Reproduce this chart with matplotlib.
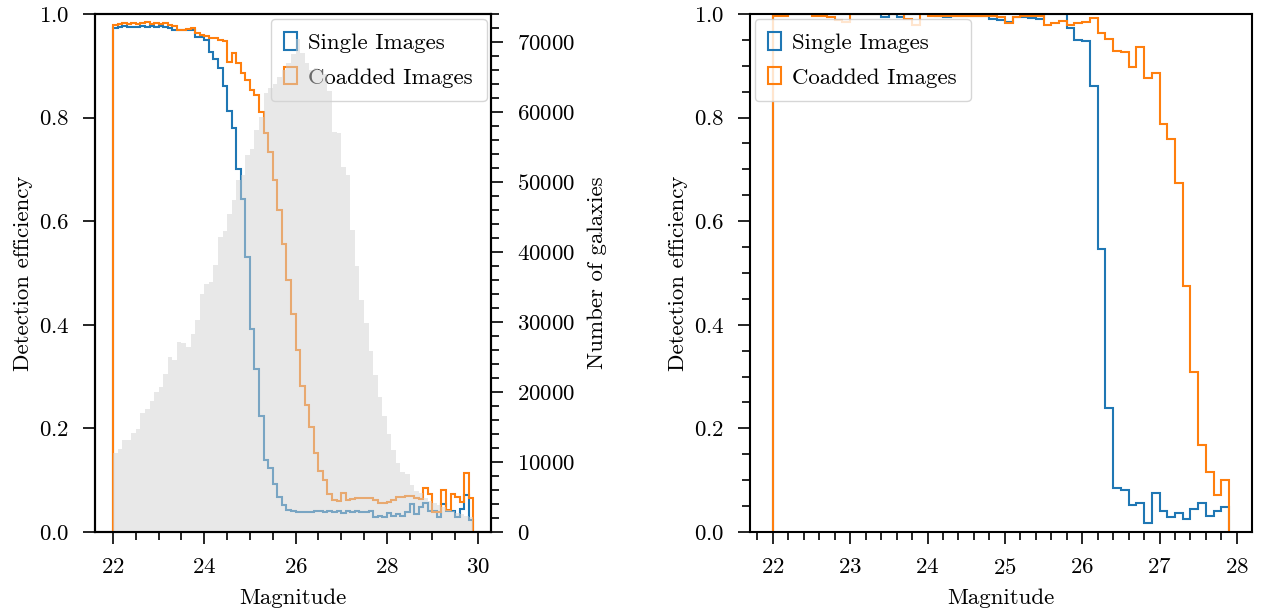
import numpy as np
import matplotlib
matplotlib.use('Agg')
import matplotlib.pyplot as plt
from matplotlib.ticker import MultipleLocator

plt.rcParams['font.family'] = 'serif'
plt.rcParams['font.serif'] = ['cmr10']
plt.rcParams['mathtext.fontset'] = 'cm'
plt.rcParams['axes.formatter.use_mathtext'] = True
plt.rcParams['font.size'] = 16.5
plt.rcParams['axes.linewidth'] = 1.5

# Bin edges (magnitude)
edges_left = np.linspace(22.0, 29.9, 80)
edges_right = np.linspace(22.0, 27.9, 60)

# Left panel: detection efficiency, single vs coadded
single_left = [
    0.973, 0.975, 0.977, 0.974, 0.975, 0.974, 0.976, 0.975, 0.977, 0.975,
    0.976, 0.974, 0.972, 0.970, 0.970, 0.969, 0.970, 0.970, 0.955, 0.955,
    0.949, 0.927, 0.914, 0.895, 0.860, 0.813, 0.780, 0.701, 0.643, 0.531,
    0.391, 0.315, 0.224, 0.139, 0.124, 0.093, 0.068, 0.052, 0.042, 0.040,
    0.039, 0.039, 0.038, 0.039, 0.040, 0.041, 0.038, 0.040, 0.039, 0.041,
    0.037, 0.040, 0.039, 0.041, 0.038, 0.039, 0.041, 0.029, 0.030, 0.028,
    0.036, 0.030, 0.035, 0.030, 0.039, 0.054, 0.035, 0.048, 0.055, 0.040,
    0.040, 0.028, 0.054, 0.040, 0.040, 0.028, 0.045, 0.072, 0.023,
]
coadd_left = [
    0.978, 0.980, 0.982, 0.980, 0.982, 0.980, 0.983, 0.985, 0.981, 0.983,
    0.981, 0.983, 0.978, 0.977, 0.970, 0.969, 0.971, 0.972, 0.964, 0.960,
    0.957, 0.953, 0.953, 0.950, 0.947, 0.908, 0.924, 0.905, 0.886, 0.872,
    0.853, 0.843, 0.811, 0.770, 0.734, 0.680, 0.622, 0.556, 0.487, 0.420,
    0.351, 0.281, 0.245, 0.203, 0.152, 0.117, 0.100, 0.074, 0.062, 0.060,
    0.075, 0.062, 0.064, 0.065, 0.066, 0.065, 0.066, 0.062, 0.055, 0.055,
    0.057, 0.062, 0.068, 0.068, 0.069, 0.070, 0.065, 0.064, 0.085, 0.074,
    0.038, 0.038, 0.082, 0.043, 0.074, 0.067, 0.058, 0.114, 0.065,
]
# Number of galaxies per bin (right axis of left panel)
galaxy_counts = [
    11240, 11810, 13140, 13140, 14190, 14710, 17050, 17620, 18760, 19960,
    20680, 22580, 24960, 24580, 27110, 27000, 26390, 28290, 30290, 34010,
    35400, 35700, 38150, 42100, 43000, 45500, 47500, 50300, 51000, 53800,
    54800, 57500, 59300, 62800, 63500, 64000, 65000, 66000, 67000, 68300,
    70500, 68500, 67000, 66000, 66300, 66000, 65500, 63000, 57200, 57000,
    52200, 51000, 43200, 38000, 33100, 29800, 25800, 22400, 19300, 16600,
    14000, 11700, 9900, 8500, 8300, 6700, 5800, 5500, 4800, 4400,
    4100, 3800, 3500, 3200, 3000, 2700, 2500, 2300, 2100,
]

# Right panel
single_right = [
    1.0, 1.0, 1.0, 1.0, 1.0, 1.0, 1.0, 1.0, 1.0, 1.0,
    1.0, 1.0, 1.0, 1.0, 0.995, 1.0, 0.995, 1.0, 1.0, 1.0,
    1.0, 0.996, 0.995, 0.996, 0.996, 0.997, 0.996, 0.997, 0.990, 0.988,
    0.985, 0.995, 0.995, 0.993, 0.990, 1.0, 1.0, 1.0, 0.972, 0.950,
    0.947, 0.861, 0.546, 0.239, 0.084, 0.082, 0.052, 0.055, 0.017, 0.075,
    0.040, 0.028, 0.037, 0.026, 0.045, 0.055, 0.031, 0.040, 0.049,
]
coadd_right = [
    0.996, 0.996, 1.0, 1.0, 1.0, 0.996, 0.996, 0.995, 0.988, 0.985,
    1.0, 1.0, 1.0, 1.0, 1.0, 1.0, 1.0, 0.990, 0.978, 1.0,
    0.996, 0.996, 0.996, 0.996, 0.996, 0.996, 0.997, 0.997, 0.996, 0.995,
    0.983, 0.995, 0.996, 0.996, 0.996, 0.979, 0.982, 0.987, 0.979, 0.982,
    0.984, 0.992, 0.964, 0.951, 0.929, 0.927, 0.898, 0.937, 0.876, 0.887,
    0.787, 0.759, 0.674, 0.474, 0.308, 0.168, 0.115, 0.071, 0.100,
]

centers_left = 0.5 * (edges_left[:-1] + edges_left[1:])
centers_right = 0.5 * (edges_right[:-1] + edges_right[1:])

leg_kw = dict(handlelength=0.55, handleheight=0.8, handletextpad=0.5,
              borderaxespad=0.2, borderpad=0.6, labelspacing=0.6)

fig = plt.figure(figsize=(12.65, 6.10), dpi=100)
ax1 = fig.add_axes([0.0751, 0.1279, 0.3134, 0.8492])
ax3 = fig.add_axes([0.5929, 0.1279, 0.3968, 0.8492])

# Left panel
ax1.hist(centers_left, bins=edges_left, weights=single_left, histtype='step',
         lw=1.5, color='C0', label='Single Images')
ax1.hist(centers_left, bins=edges_left, weights=coadd_left, histtype='step',
         lw=1.5, color='C1', label='Coadded Images')
ax1.set_ylim(0, 1)
ax1.set_xlabel('Magnitude', labelpad=8)
ax1.set_ylabel('Detection efficiency')
ax1.xaxis.set_major_locator(MultipleLocator(2))
ax1.xaxis.set_minor_locator(MultipleLocator(0.5))
ax1.legend(loc='upper right', **leg_kw)

# galaxy counts on a twin axis, drawn over the efficiency curves
ax2 = ax1.twinx()
ax2.hist(centers_left, bins=edges_left, weights=galaxy_counts,
         color='lightgray', alpha=0.5)
ax2.set_ylabel('Number of galaxies', labelpad=9)
ax2.yaxis.set_major_locator(MultipleLocator(10000))
ax2.yaxis.set_minor_locator(MultipleLocator(2000))

# Right panel
ax3.hist(centers_right, bins=edges_right, weights=single_right, histtype='step',
         lw=1.5, color='C0', label='Single Images')
ax3.hist(centers_right, bins=edges_right, weights=coadd_right, histtype='step',
         lw=1.5, color='C1', label='Coadded Images')
ax3.set_ylim(0, 1)
ax3.set_xlabel('Magnitude', labelpad=8)
ax3.set_ylabel('Detection efficiency')
ax3.xaxis.set_major_locator(MultipleLocator(1))
ax3.xaxis.set_minor_locator(MultipleLocator(0.2))
ax3.yaxis.set_minor_locator(MultipleLocator(0.05))
ax3.legend(loc='upper left', **leg_kw)

for ax in (ax1, ax2, ax3):
    ax.tick_params(which='major', length=8.5, width=1.2, pad=10)
    ax.tick_params(which='minor', length=5.5, width=1.2)

fig.savefig('out.png', dpi=100)
